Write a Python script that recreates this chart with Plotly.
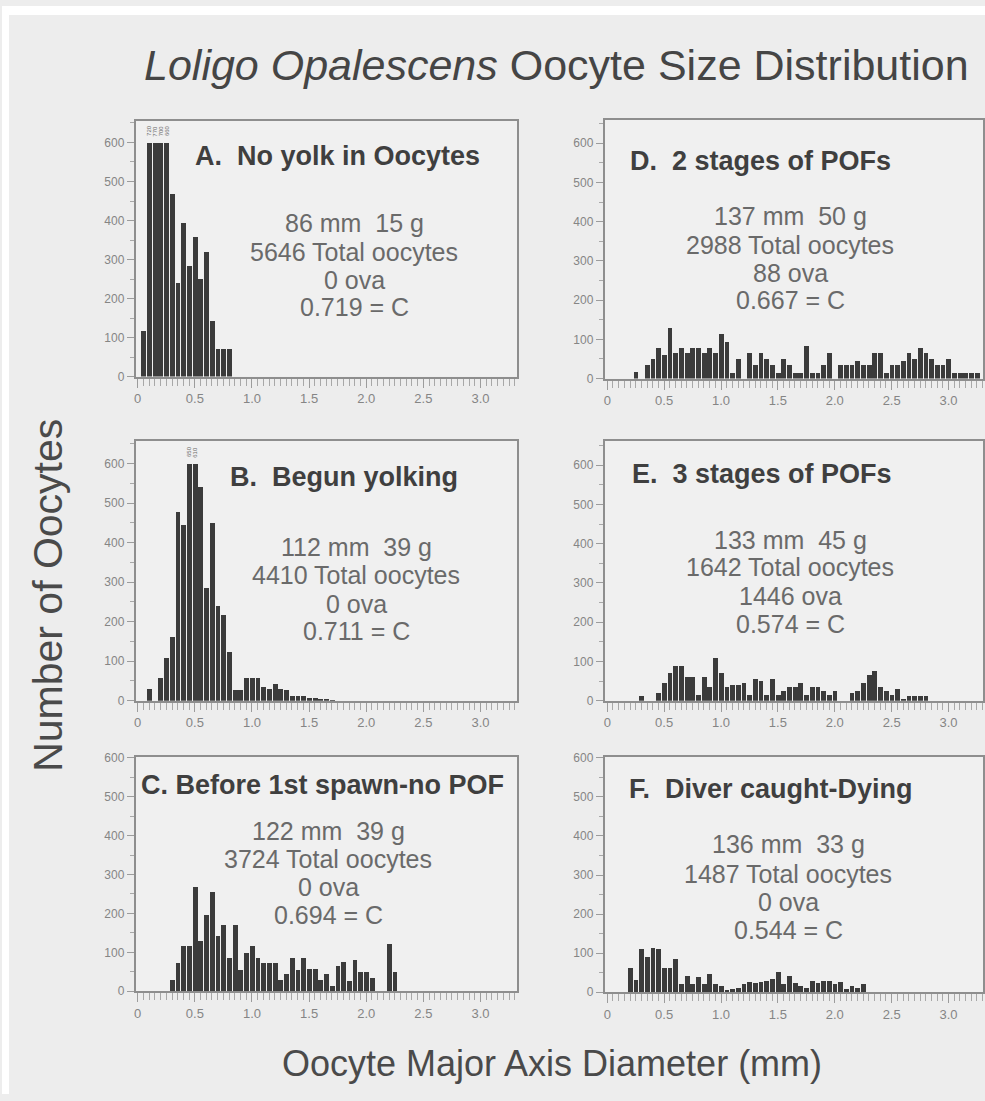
import plotly.graph_objects as go

W, H = 985, 1101
FONT = "Liberation Sans, Arial, Helvetica, sans-serif"
CAP = 600          # bars taller than this are truncated and labelled
BIN_W = 0.05       # bin width in mm

# ---------------- data (bin centres in mm, oocyte counts) ----------------
a_bins = [0.05, 0.10, 0.15, 0.20, 0.25, 0.30, 0.35, 0.40, 0.45, 0.50, 0.55, 0.60,
          0.65, 0.70, 0.75, 0.80]
a_counts = [118, 720, 770, 700, 660, 470, 240, 394, 285, 358, 250, 321, 144, 72, 72, 72]

b_bins = [0.10, 0.15, 0.20, 0.25, 0.30, 0.35, 0.40, 0.45, 0.50, 0.55, 0.60, 0.65,
          0.70, 0.75, 0.80, 0.85, 0.90, 0.95, 1.00, 1.05, 1.10, 1.15, 1.20, 1.25,
          1.30, 1.35, 1.40, 1.45, 1.50, 1.55, 1.60, 1.65, 1.70]
b_counts = [29, 0, 57, 108, 161, 477, 446, 650, 610, 542, 285, 450, 240, 217, 125, 27,
            27, 57, 57, 57, 35, 30, 43, 30, 27, 12, 12, 12, 7, 7, 4, 4, 2]

c_bins = [0.30, 0.35, 0.40, 0.45, 0.50, 0.55, 0.60, 0.65, 0.70, 0.75, 0.80, 0.85,
          0.90, 0.95, 1.00, 1.05, 1.10, 1.15, 1.20, 1.25, 1.30, 1.35, 1.40, 1.45,
          1.50, 1.55, 1.60, 1.65, 1.70, 1.75, 1.80, 1.85, 1.90, 1.95, 2.00, 2.05,
          2.10, 2.15, 2.20, 2.25]
c_counts = [30, 72, 115, 115, 267, 128, 195, 256, 142, 170, 86, 170, 54, 99, 115, 86,
            72, 72, 72, 29, 44, 86, 54, 86, 56, 56, 29, 44, 14, 65, 76, 27, 79, 50,
            50, 35, 0, 0, 121, 50]

d_bins = [0.25, 0.30, 0.35, 0.40, 0.45, 0.50, 0.55, 0.60, 0.65, 0.70, 0.75, 0.80,
          0.85, 0.90, 0.95, 1.00, 1.05, 1.10, 1.15, 1.20, 1.25, 1.30, 1.35, 1.40,
          1.45, 1.50, 1.55, 1.60, 1.65, 1.70, 1.75, 1.80, 1.85, 1.90, 1.95, 2.00,
          2.05, 2.10, 2.15, 2.20, 2.25, 2.30, 2.35, 2.40, 2.45, 2.50, 2.55, 2.60,
          2.65, 2.70, 2.75, 2.80, 2.85, 2.90, 2.95, 3.00, 3.05, 3.10, 3.15, 3.20, 3.25]
d_counts = [18, 0, 35, 50, 80, 60, 130, 65, 80, 65, 80, 80, 65, 80, 65, 115, 95, 15,
            50, 0, 65, 35, 65, 50, 35, 15, 50, 35, 15, 15, 85, 15, 15, 35, 65, 0, 35,
            35, 35, 45, 35, 35, 65, 65, 15, 35, 35, 45, 65, 50, 80, 65, 50, 35, 35,
            50, 15, 15, 15, 15, 15]

e_bins = [0.30, 0.35, 0.40, 0.45, 0.50, 0.55, 0.60, 0.65, 0.70, 0.75, 0.80, 0.85,
          0.90, 0.95, 1.00, 1.05, 1.10, 1.15, 1.20, 1.25, 1.30, 1.35, 1.40, 1.45,
          1.50, 1.55, 1.60, 1.65, 1.70, 1.75, 1.80, 1.85, 1.90, 1.95, 2.00, 2.05,
          2.10, 2.15, 2.20, 2.25, 2.30, 2.35, 2.40, 2.45, 2.50, 2.55, 2.60, 2.65,
          2.70, 2.75, 2.80]
e_counts = [12, 0, 0, 20, 45, 70, 90, 90, 60, 60, 15, 60, 35, 110, 70, 35, 40, 40, 45,
            15, 55, 50, 15, 55, 15, 25, 35, 35, 45, 15, 35, 35, 25, 15, 25, 0, 0, 20,
            25, 45, 65, 75, 35, 25, 15, 30, 5, 12, 12, 12, 12]

f_bins = [0.20, 0.25, 0.30, 0.35, 0.40, 0.45, 0.50, 0.55, 0.60, 0.65, 0.70, 0.75,
          0.80, 0.85, 0.90, 0.95, 1.00, 1.05, 1.10, 1.15, 1.20, 1.25, 1.30, 1.35,
          1.40, 1.45, 1.50, 1.55, 1.60, 1.65, 1.70, 1.75, 1.80, 1.85, 1.90, 1.95,
          2.00, 2.05, 2.10, 2.15, 2.20, 2.25]
f_counts = [61, 31, 110, 90, 112, 110, 62, 62, 85, 21, 42, 21, 38, 21, 46, 21, 17, 5,
            8, 12, 21, 25, 23, 25, 28, 34, 51, 21, 42, 23, 17, 12, 28, 23, 28, 28, 20,
            25, 8, 17, 12, 20]

x_tick_vals = [0, 0.5, 1.0, 1.5, 2.0, 2.5, 3.0]
x_tick_text = ["0", "0.5", "1.0", "1.5", "2.0", "2.5", "3.0"]
y_tick_vals = [0, 100, 200, 300, 400, 500, 600]

main_title = "<i>Loligo Opalescens</i> Oocyte Size Distribution"
y_title = "Number of Oocytes"
x_title = "Oocyte Major Axis Diameter (mm)"

panel_titles = ["A.\u00a0 No yolk in Oocytes", "B.\u00a0 Begun yolking",
                "C. Before 1st spawn-no POF", "D.\u00a0 2 stages of POFs",
                "E.\u00a0 3 stages of POFs", "F.\u00a0 Diver caught-Dying"]
panel_info = [
    ["86 mm\u00a0 15 g", "5646 Total oocytes", "0 ova", "0.719 = C"],
    ["112 mm\u00a0 39 g", "4410 Total oocytes", "0 ova", "0.711 = C"],
    ["122 mm\u00a0 39 g", "3724 Total oocytes", "0 ova", "0.694 = C"],
    ["137 mm\u00a0 50 g", "2988 Total oocytes", "88 ova", "0.667 = C"],
    ["133 mm\u00a0 45 g", "1642 Total oocytes", "1446 ova", "0.574 = C"],
    ["136 mm\u00a0 33 g", "1487 Total oocytes", "0 ova", "0.544 = C"],
]

# ---------------- layout geometry (page pixels) ----------------
panels = [
    dict(bins=a_bins, counts=a_counts, box=(134, 516, 116, 375), xr=(-0.0175, 3.319),
         ymax=656, tpos=(191, 152), icx=353, iys=(220, 249, 277, 305)),
    dict(bins=b_bins, counts=b_counts, box=(134, 516, 440, 703), xr=(-0.0175, 3.319),
         ymax=658, tpos=(226, 477), icx=355, iys=(547, 576, 605, 632)),
    dict(bins=c_bins, counts=c_counts, box=(134, 516, 760, 997), xr=(-0.0175, 3.319),
         ymax=602, tpos=(137, 788), icx=327, iys=(835, 863, 892, 920)),
    dict(bins=d_bins, counts=d_counts, box=(604, 983, 115, 377), xr=(-0.022, 3.303),
         ymax=660, tpos=(627, 157), icx=790, iys=(213, 242, 270, 298)),
    dict(bins=e_bins, counts=e_counts, box=(604, 983, 440, 703), xr=(-0.022, 3.303),
         ymax=662, tpos=(629, 474), icx=790, iys=(540, 568, 597, 625)),
    dict(bins=f_bins, counts=f_counts, box=(604, 983, 760, 998), xr=(-0.022, 3.303),
         ymax=602, tpos=(626, 792), icx=788, iys=(848, 878, 907, 935)),
]

LINE = "#8e8e8e"
TICK = "#9c9c9c"
TICKFONT = "#858585"
BAR = "#3b3b3b"

fig = go.Figure()
layout = dict(
    width=W, height=H, autosize=False,
    margin=dict(l=0, r=0, t=0, b=0),
    paper_bgcolor="#ededed", plot_bgcolor="#f0f0f0",
    showlegend=False, bargap=0,
    font=dict(family=FONT, color="#555555"),
)
annotations = []


def px(x):
    return x / W


def py(y):
    return 1 - y / H


for i, p in enumerate(panels):
    n = i + 1
    xa = "xaxis" if n == 1 else f"xaxis{n}"
    ya = "yaxis" if n == 1 else f"yaxis{n}"
    xr_ = "x" if n == 1 else f"x{n}"
    yr_ = "y" if n == 1 else f"y{n}"
    l, r, t, b = p["box"]
    shown = [min(c, CAP) for c in p["counts"]]
    fig.add_trace(go.Bar(
        x=p["bins"], y=shown, width=BIN_W * 0.84,
        marker=dict(color=BAR, line=dict(width=0)),
        xaxis=xr_, yaxis=yr_, hoverinfo="x+y",
    ))
    layout[xa] = dict(
        domain=[px(l), px(r)], range=list(p["xr"]), anchor=yr_,
        showline=True, mirror=True, linecolor=LINE, linewidth=2,
        ticks="outside", ticklen=9, tickwidth=1, tickcolor=TICK,
        tickvals=x_tick_vals, ticktext=x_tick_text,
        tickfont=dict(size=13, color=TICKFONT, family=FONT),
        minor=dict(dtick=BIN_W, tick0=0, ticks="outside", ticklen=7,
                   tickwidth=1, tickcolor="#a8a8a8", showgrid=False),
        showgrid=False, zeroline=False, fixedrange=True,
    )
    layout[ya] = dict(
        domain=[py(b), py(t)], range=[0, p["ymax"]], anchor=xr_,
        showline=True, mirror=True, linecolor=LINE, linewidth=2,
        ticks="outside", ticklen=7, tickwidth=1, tickcolor=TICK,
        tickvals=y_tick_vals,
        tickfont=dict(size=12, color=TICKFONT, family=FONT),
        minor=dict(dtick=50, tick0=0, ticks="outside", ticklen=4,
                   tickwidth=1, tickcolor="#a8a8a8", showgrid=False),
        showgrid=False, zeroline=False, fixedrange=True,
    )
    # truncated-bar value labels
    for xb, c in zip(p["bins"], p["counts"]):
        if c > CAP:
            annotations.append(dict(
                x=xb, y=CAP + 30, xref=xr_, yref=yr_, text=str(c), showarrow=False,
                textangle=-90, font=dict(size=6, color="#6a6a6a", family=FONT),
                xanchor="center", yanchor="middle",
            ))
    # panel title
    annotations.append(dict(
        x=px(p["tpos"][0]), y=py(p["tpos"][1]), xref="paper", yref="paper",
        text=f"<b>{panel_titles[i]}</b>", showarrow=False,
        xanchor="left", yanchor="middle",
        font=dict(size=27, color="#3f3f3f", family=FONT),
    ))
    # info lines
    for line, yy in zip(panel_info[i], p["iys"]):
        annotations.append(dict(
            x=px(p["icx"]), y=py(yy), xref="paper", yref="paper",
            text=line, showarrow=False, xanchor="center", yanchor="middle",
            font=dict(size=25, color="#6a6a6a", family=FONT),
        ))

# figure-level text
annotations.append(dict(
    x=px(556), y=py(60), xref="paper", yref="paper", text=main_title,
    showarrow=False, xanchor="center", yanchor="middle",
    font=dict(size=43, color="#454545", family=FONT),
))
annotations.append(dict(
    x=px(46), y=py(596), xref="paper", yref="paper", text=y_title,
    showarrow=False, xanchor="center", yanchor="middle", textangle=-90,
    font=dict(size=41, color="#4a4a4a", family=FONT),
))
annotations.append(dict(
    x=px(551), y=py(1070), xref="paper", yref="paper", text=x_title,
    showarrow=False, xanchor="center", yanchor="middle",
    font=dict(size=36, color="#4a4a4a", family=FONT),
))

layout["annotations"] = annotations
# white strips along the top and left edge of the scanned page
layout["shapes"] = [
    dict(type="rect", xref="paper", yref="paper", x0=0, x1=1, y0=py(9), y1=1,
         fillcolor="white", line=dict(width=0), layer="below"),
    dict(type="rect", xref="paper", yref="paper", x0=0, x1=px(7), y0=0, y1=1,
         fillcolor="white", line=dict(width=0), layer="below"),
]
fig.update_layout(**layout)
fig.write_html(
    "out.html",
    config={"displayModeBar": False},
    post_script=("document.body.style.margin='0px';"
                 "document.body.style.overflow='hidden';"
                 "document.documentElement.style.overflow='hidden';"),
)
